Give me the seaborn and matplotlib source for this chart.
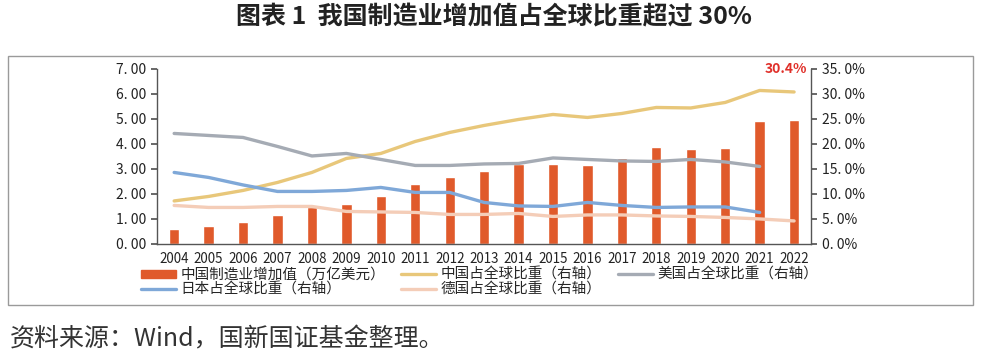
import numpy as np
import pandas as pd
import seaborn as sns
import matplotlib.pyplot as plt
from matplotlib.patches import Rectangle
from matplotlib.lines import Line2D

# data
years = [str(y) for y in range(2004, 2023)]
china_va = [0.61, 0.73, 0.88, 1.15, 1.47, 1.61, 1.92, 2.41, 2.68, 2.92,
            3.20, 3.20, 3.15, 3.45, 3.87, 3.81, 3.85, 4.91, 4.96]
china_share = [8.6, 9.5, 10.7, 12.3, 14.3, 17.1, 18.1, 20.5, 22.3, 23.7,
               24.9, 25.9, 25.3, 26.1, 27.3, 27.2, 28.3, 30.7, 30.4]
us_share = [22.1, 21.7, 21.3, 19.5, 17.6, 18.1, 16.9, 15.7, 15.7, 16.0,
            16.1, 17.2, 16.9, 16.6, 16.5, 16.9, 16.4, 15.5, np.nan]
japan_share = [14.3, 13.3, 11.8, 10.5, 10.5, 10.7, 11.3, 10.3, 10.3, 8.3,
               7.6, 7.5, 8.3, 7.7, 7.3, 7.4, 7.4, 6.3, np.nan]
germany_share = [7.7, 7.3, 7.3, 7.5, 7.5, 6.5, 6.4, 6.3, 5.9, 5.9,
                 6.1, 5.5, 5.8, 5.8, 5.6, 5.5, 5.3, 5.0, 4.6]

bar_label = "中国制造业增加值（万亿美元）"
line_labels = ["中国占全球比重（右轴）", "美国占全球比重（右轴）",
               "日本占全球比重（右轴）", "德国占全球比重（右轴）"]
line_colors = ["#E8C77A", "#A5ABB4", "#7FA8D8", "#F4CDB8"]
bar_color = "#E05A2B"

sns.set_theme(style="white")
plt.rcParams["font.family"] = ["Noto Sans CJK SC", "DejaVu Sans"]
plt.rcParams["axes.unicode_minus"] = False

df = pd.DataFrame({"year": years, "va": china_va})
df["pos"] = np.arange(len(years))
shares = [china_share, us_share, japan_share, germany_share]

fig = plt.figure(figsize=(9.87, 3.63), dpi=100)
ax = fig.add_axes([0.159, 0.328, 0.663, 0.482])
ax2 = ax.twinx()

sns.barplot(data=df, x="year", y="va", color=bar_color, width=0.3,
            saturation=1, ax=ax)
for vals, c in zip(shares, line_colors):
    sns.lineplot(x=df["pos"], y=vals, color=c, linewidth=2.4, ax=ax2)

# lines drawn over the bars
ax.set_zorder(1)
ax2.set_zorder(2)
ax2.patch.set_visible(False)

ax.set_xlim(-0.5, len(years) - 0.5)
ax.set_ylim(0, 7)
ax2.set_ylim(0, 35)
ax.set_yticks(np.arange(0, 7.01, 1))
ax.set_yticklabels([f"{v:.2f}".replace(".", ". ") for v in np.arange(0, 7.01, 1)])
ax2.set_yticks(np.arange(0, 35.1, 5))
ax2.set_yticklabels([f"{v:.1f}".replace(".", ". ") + "%" for v in np.arange(0, 35.1, 5)])
ax.set_xticks(np.arange(len(years)))
ax.set_xticklabels(years)
ax.set_xticks(np.arange(-0.5, len(years)), minor=True)
for a in (ax, ax2):
    a.set_xlabel("")
    a.set_ylabel("")

spine_c = "#555555"
for a in (ax, ax2):
    a.spines["top"].set_visible(False)
    for s in ("left", "right", "bottom"):
        a.spines[s].set_color(spine_c)
        a.spines[s].set_linewidth(1.0)
ax.spines["right"].set_visible(False)
ax2.spines["left"].set_visible(False)
ax2.spines["bottom"].set_visible(False)

ax.tick_params(axis="x", which="major", length=0, labelsize=9.6, colors="#222222", pad=6)
ax.tick_params(axis="x", which="minor", length=5, color=spine_c, direction="out")
ax.tick_params(axis="y", length=4, color=spine_c, direction="out", labelsize=10,
               colors="#222222", left=True)
ax2.tick_params(axis="y", length=4, color=spine_c, direction="out", labelsize=10,
                colors="#222222", right=True)

ax2.text(17.75, 35, "30.4%", color="#E0302A", fontsize=10, fontweight="bold",
         ha="center", va="center")

# legend
handles = [Rectangle((0, 0), 1, 1, color=bar_color)]
handles += [Line2D([], [], color=c, linewidth=2.4) for c in line_colors]
labels = [bar_label] + line_labels
order = [0, 3, 1, 4, 2]
fig.legend([handles[i] for i in order], [labels[i] for i in order],
           loc="upper left", bbox_to_anchor=(0.143, 0.262), ncol=3, frameon=False,
           fontsize=10.5, handlelength=2.4, handleheight=0.5, handletextpad=0.3,
           columnspacing=1.1, labelspacing=0.05, borderaxespad=0, borderpad=0)

fig.text(0.5, 0.952, "图表 1  我国制造业增加值占全球比重超过 30%", ha="center",
         va="center", fontsize=18, fontweight="bold", color="#222222")
fig.text(0.01, 0.066, "资料来源：Wind，国新国证基金整理。", ha="left", va="center",
         fontsize=18, color="#333333")

fig.patches.append(Rectangle((8 / 987, 1 - 305 / 363), 965 / 987, 249 / 363,
                             transform=fig.transFigure, fill=False,
                             edgecolor="#9A9A9A", linewidth=1.0))

fig.savefig("out.png", dpi=100)
